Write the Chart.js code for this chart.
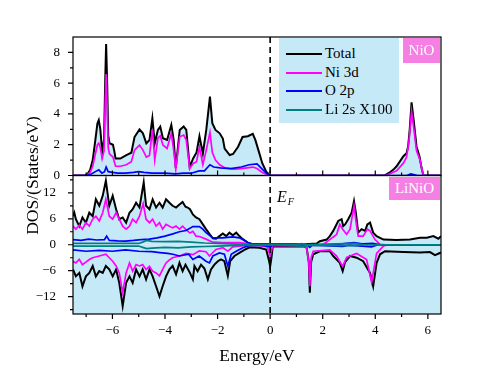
<!DOCTYPE html>
<html>
<head>
<meta charset="utf-8">
<script src="https://cdn.jsdelivr.net/npm/chart.js@4.4.1/dist/chart.umd.min.js"></script>
<style>
  body { margin: 0; background: #fff; }
  #wrap { position: relative; width: 491px; height: 374px; font-family: 'Liberation Serif', serif; color: #000; }
  #legend { position: absolute; left: 279px; top: 38px; width: 120px; height: 85px; background: #c6e9f8; }
  .row { position: absolute; left: 0; width: 120px; height: 19px; font-size: 15px; line-height: 19px; }
  .row .swatch { position: absolute; left: 7px; top: 9px; width: 36px; height: 2px; }
  .row .txt { position: absolute; left: 46px; top: 0; white-space: nowrap; }
  .tag { position: absolute; background: #f67fe3; color: #fff; font-size: 15px; text-align: center; }
  #ef { position: absolute; left: 277px; top: 188px; font-size: 16px; line-height: 18px; font-style: italic; }
  #ef sub { font-size: 10px; vertical-align: -3px; margin-left: 1px; }
</style>
</head>
<body>
<div id="wrap">
  <canvas id="dos" width="491" height="374"></canvas>
  <div id="legend"></div>
  <div class="tag" style="left:403px;top:38px;width:37px;height:25px;line-height:25px;">NiO</div>
  <div class="tag" style="left:389px;top:177px;width:51px;height:23px;line-height:23px;">LiNiO</div>
  <div id="ef">E<sub>F</sub></div>
</div>
<script>
// axis ticks
const xTicks = [-6, -4, -2, 0, 2, 4, 6];
const xMinor = [-7, -5, -3, -1, 1, 3, 5];
const topTicks = [0, 2, 4, 6, 8];
const topMinor = [1, 3, 5, 7];
const botTicks = [-12, -6, 0, 6, 12];
const botMinor = [-15, -9, -3, 3, 9, 15];

const legendLabels = ['Total', 'Ni 3d', 'O 2p', 'Li 2s X100'];

// NiO panel, [energy, DOS]
const nioTotal = [[-7.5,0],[-7.05,0],[-6.95,0.1],[-6.85,0.35],[-6.75,1.0],[-6.65,2.3],[-6.57,3.4],[-6.52,3.6],[-6.46,3.0],[-6.39,1.55],[-6.32,2.3],[-6.27,6.5],[-6.24,8.55],[-6.2,6.0],[-6.16,2.6],[-6.11,2.1],[-5.98,2.0],[-5.93,1.6],[-5.88,1.1],[-5.7,1.1],[-5.47,1.33],[-5.28,1.48],[-5.16,2.5],[-4.97,3.0],[-4.84,2.74],[-4.71,2.09],[-4.59,2.31],[-4.48,3.72],[-4.39,2.09],[-4.27,2.96],[-4.18,3.18],[-4.08,2.42],[-3.92,2.31],[-3.76,3.29],[-3.67,2.31],[-3.59,0.5],[-3.44,2.96],[-3.29,3.18],[-3.19,2.96],[-3.06,0.55],[-2.93,1.11],[-2.8,1.5],[-2.69,2.55],[-2.56,1.43],[-2.43,2.96],[-2.29,5.13],[-2.2,3.4],[-2.08,2.96],[-1.92,2.74],[-1.8,2.4],[-1.73,1.75],[-1.54,1.33],[-1.41,1.4],[-1.22,1.87],[-1.05,2.5],[-0.85,2.55],[-0.66,2.7],[-0.56,2.3],[-0.43,1.55],[-0.3,0.8],[-0.15,0.25],[0,0],[4.35,0],[4.55,0.2],[4.7,0.4],[4.81,0.6],[4.95,0.95],[5.07,1.25],[5.19,1.45],[5.25,1.9],[5.31,3.0],[5.38,4.75],[5.46,3.6],[5.57,1.87],[5.68,1.25],[5.76,0.5],[5.83,0],[6.5,0]];
const nioNi = [[-7.5,0],[-7.05,0],[-6.95,0.05],[-6.85,0.2],[-6.75,0.6],[-6.65,1.4],[-6.57,2.0],[-6.52,2.1],[-6.46,1.8],[-6.39,1.1],[-6.32,1.6],[-6.27,5.0],[-6.24,6.6],[-6.2,4.5],[-6.16,1.8],[-6.11,1.4],[-5.98,1.2],[-5.93,0.9],[-5.88,0.6],[-5.7,0.6],[-5.47,0.7],[-5.28,0.9],[-5.16,1.65],[-4.97,1.98],[-4.84,1.65],[-4.71,1.2],[-4.59,1.3],[-4.48,3.0],[-4.39,1.0],[-4.27,2.42],[-4.18,2.57],[-4.08,1.98],[-3.92,1.76],[-3.76,2.74],[-3.67,1.65],[-3.59,0.4],[-3.44,2.52],[-3.29,2.63],[-3.19,2.3],[-3.06,0.45],[-2.93,0.78],[-2.8,0.9],[-2.69,1.85],[-2.56,0.7],[-2.43,1.65],[-2.29,2.8],[-2.2,1.5],[-2.08,1.0],[-1.92,0.7],[-1.73,0.5],[-1.4,0.42],[-1.1,0.45],[-0.66,0.55],[-0.5,0.45],[-0.3,0.2],[-0.1,0.05],[0,0],[4.4,0],[4.81,0.3],[5.07,0.8],[5.19,1.2],[5.28,2.2],[5.38,4.15],[5.47,3.0],[5.57,1.6],[5.7,1.0],[5.8,0.2],[5.85,0],[6.5,0]];
const nioO = [[-7.5,0],[-7.0,0],[-6.8,0.1],[-6.6,0.3],[-6.52,0.37],[-6.4,0.15],[-6.3,0.25],[-6.24,0.55],[-6.16,0.25],[-6.0,0.2],[-5.8,0.15],[-5.5,0.15],[-5.2,0.2],[-5.0,0.25],[-4.8,0.2],[-4.5,0.15],[-4.0,0.15],[-3.6,0.1],[-3.3,0.15],[-3.0,0.15],[-2.7,0.3],[-2.5,0.3],[-2.29,0.7],[-2.15,0.55],[-1.9,0.5],[-1.5,0.45],[-1.1,0.55],[-0.8,0.7],[-0.5,0.75],[-0.35,0.5],[-0.15,0.15],[0,0],[5.2,0],[5.35,0.1],[5.5,0.05],[5.6,0],[6.5,0]];

// LiNiO panel, spin up (positive) and spin down (negative)
const liTotalUp = [[-7.5,6.6],[-7.45,7.4],[-7.39,5.9],[-7.26,4.3],[-7.14,6.3],[-7.01,5.1],[-6.88,7.4],[-6.75,6.6],[-6.63,10.5],[-6.5,9.0],[-6.37,11.3],[-6.25,14.8],[-6.12,9.0],[-5.99,11.3],[-5.86,8.2],[-5.74,5.9],[-5.61,6.3],[-5.48,5.1],[-5.35,7.4],[-5.23,8.2],[-5.1,9.7],[-4.97,8.6],[-4.81,14.4],[-4.72,9.0],[-4.59,8.2],[-4.47,10.5],[-4.34,8.6],[-4.21,9.7],[-4.09,8.6],[-3.96,10.5],[-3.83,9.7],[-3.71,9.0],[-3.58,8.6],[-3.45,9.3],[-3.33,9.9],[-3.22,8.8],[-3.14,8.6],[-3.05,8.2],[-2.94,7.0],[-2.82,6.3],[-2.69,5.9],[-2.56,4.7],[-2.44,3.6],[-2.31,2.5],[-2.18,1.5],[-2.06,1.4],[-1.93,2.0],[-1.8,2.6],[-1.67,2.0],[-1.55,2.8],[-1.42,2.2],[-1.29,2.8],[-1.17,2.0],[-1.04,1.3],[-0.85,0.5],[-0.66,0.15],[0,0.1],[1.3,0.1],[1.77,0.3],[1.89,0.8],[2.15,1.2],[2.27,2.0],[2.4,3.2],[2.59,5.5],[2.72,5.9],[2.78,4.3],[2.85,4.7],[2.97,5.9],[3.1,7.4],[3.19,10.1],[3.26,7.4],[3.35,2.8],[3.48,3.6],[3.61,3.2],[3.7,4.7],[3.8,5.1],[3.92,2.8],[4.05,2.0],[4.31,1.2],[4.81,1.1],[5.32,1.2],[5.7,1.6],[5.96,1.6],[6.21,2.0],[6.4,1.4],[6.5,2.0]];
const liTotalDn = [[-7.5,-5.7],[-7.39,-7.3],[-7.26,-6.5],[-7.14,-9.6],[-7.01,-7.3],[-6.88,-6.5],[-6.75,-4.9],[-6.63,-7.3],[-6.5,-6.1],[-6.37,-6.5],[-6.25,-4.9],[-6.12,-5.7],[-5.99,-7.3],[-5.86,-5.7],[-5.74,-8.8],[-5.61,-14.2],[-5.48,-8.8],[-5.35,-7.3],[-5.23,-8.8],[-5.1,-5.7],[-4.97,-7.3],[-4.85,-5.7],[-4.72,-8.0],[-4.59,-5.7],[-4.47,-7.3],[-4.34,-9.6],[-4.21,-11.9],[-4.09,-9.6],[-3.96,-7.3],[-3.83,-5.7],[-3.71,-4.9],[-3.58,-6.8],[-3.45,-4.2],[-3.33,-6.1],[-3.22,-4.6],[-3.05,-6.5],[-2.94,-8.0],[-2.88,-4.9],[-2.76,-6.1],[-2.63,-4.6],[-2.5,-5.5],[-2.37,-8.0],[-2.25,-5.7],[-2.12,-4.6],[-1.99,-3.8],[-1.87,-3.4],[-1.74,-3.8],[-1.61,-7.2],[-1.52,-3.8],[-1.36,-2.6],[-1.17,-1.9],[-0.98,-1.2],[-0.78,-0.6],[-0.41,-0.7],[-0.15,-1.1],[-0.05,-3.5],[0,-5.0],[0.05,-3.0],[0.1,-0.4],[1.3,-0.4],[1.39,-0.7],[1.47,-4.0],[1.51,-11.1],[1.56,-4.0],[1.64,-2.2],[1.89,-1.5],[2.27,-1.5],[2.4,-2.6],[2.53,-3.4],[2.65,-4.2],[2.76,-6.1],[2.85,-4.0],[3.04,-2.6],[3.29,-3.0],[3.54,-3.8],[3.8,-6.5],[3.92,-9.6],[4.05,-4.2],[4.18,-2.2],[4.37,-1.5],[5.07,-1.7],[5.7,-1.8],[6.08,-1.7],[6.27,-2.4],[6.5,-1.8]];
const liNiUp = [[-7.5,4.3],[-7.39,3.6],[-7.26,4.5],[-7.14,3.6],[-7.01,5.1],[-6.88,4.3],[-6.75,5.9],[-6.63,6.6],[-6.5,5.5],[-6.37,7.4],[-6.25,10.5],[-6.12,6.6],[-5.99,5.9],[-5.86,7.4],[-5.74,5.9],[-5.61,4.3],[-5.48,3.6],[-5.35,4.3],[-5.23,5.9],[-5.1,5.1],[-4.97,6.6],[-4.83,9.5],[-4.72,5.9],[-4.59,5.1],[-4.47,5.9],[-4.34,4.3],[-4.21,5.1],[-4.09,3.6],[-3.96,4.7],[-3.83,4.3],[-3.71,3.9],[-3.58,4.3],[-3.45,3.6],[-3.33,4.3],[-3.22,3.6],[-3.05,2.7],[-2.94,3.1],[-2.82,2.0],[-2.69,1.9],[-2.44,1.3],[-2.18,0.6],[-1.8,0.5],[-1.17,0.5],[-0.66,0.1],[0,0],[2.02,0.05],[2.27,1.2],[2.53,2.4],[2.65,4.7],[2.76,3.6],[2.91,2.4],[3.04,3.6],[3.19,8.9],[3.29,4.3],[3.35,2.0],[3.54,2.0],[3.7,3.6],[3.8,3.2],[3.99,1.2],[4.18,0.1],[4.4,0],[6.5,0]];
const liNiDn = [[-7.5,-3.8],[-7.39,-4.2],[-7.26,-3.4],[-7.14,-4.6],[-7.01,-4.0],[-6.88,-3.4],[-6.75,-3.0],[-6.5,-2.6],[-6.25,-2.2],[-6.12,-3.0],[-5.99,-3.8],[-5.86,-4.9],[-5.74,-6.5],[-5.61,-11.1],[-5.48,-6.5],[-5.35,-4.2],[-5.23,-6.1],[-5.1,-4.6],[-4.97,-4.9],[-4.85,-4.6],[-4.72,-5.7],[-4.59,-5.0],[-4.47,-6.1],[-4.34,-6.5],[-4.21,-7.2],[-4.09,-5.7],[-3.96,-4.2],[-3.83,-3.5],[-3.71,-3.0],[-3.45,-2.6],[-3.2,-2.0],[-2.94,-2.3],[-2.69,-1.4],[-2.44,-1.6],[-2.31,-2.6],[-2.06,-1.1],[-1.8,-0.7],[-1.61,-1.5],[-1.42,-0.5],[-1.0,-0.2],[-0.5,-0.1],[-0.1,-0.5],[0,-2.6],[0.1,-0.2],[1.3,-0.2],[1.39,-0.8],[1.47,-4.0],[1.51,-9.6],[1.56,-3.0],[1.64,-1.5],[2.27,-1.2],[2.53,-2.6],[2.76,-5.0],[2.91,-2.9],[3.29,-2.0],[3.67,-3.4],[3.86,-8.7],[4.05,-2.0],[4.31,-0.3],[4.5,0],[6.5,0]];
const liOUp = [[-7.5,1.2],[-7.2,1.0],[-6.9,1.3],[-6.6,1.1],[-6.3,1.2],[-6.22,2.0],[-6.12,1.0],[-5.8,0.9],[-5.5,0.85],[-5.2,1.0],[-4.9,1.2],[-4.6,1.3],[-4.3,1.6],[-4.0,2.0],[-3.7,2.5],[-3.45,3.0],[-3.2,3.3],[-2.94,4.2],[-2.69,4.2],[-2.56,3.6],[-2.44,2.8],[-2.18,1.6],[-1.8,1.6],[-1.42,1.8],[-1.17,1.6],[-1.04,1.2],[-0.85,0.5],[-0.66,0.1],[0,0],[2.5,0.05],[2.9,0.3],[3.19,0.5],[3.5,0.2],[3.9,0.3],[4.2,0],[6.5,0]];
const liODn = [[-7.5,-1.2],[-7.0,-1.5],[-6.5,-1.3],[-6.0,-1.5],[-5.5,-1.2],[-5.0,-1.5],[-4.5,-1.6],[-4.2,-1.8],[-3.9,-2.0],[-3.7,-2.2],[-3.45,-2.6],[-3.1,-2.2],[-2.94,-3.4],[-2.7,-2.6],[-2.44,-3.8],[-2.31,-4.2],[-2.18,-2.6],[-1.93,-1.9],[-1.74,-2.2],[-1.61,-4.9],[-1.48,-2.2],[-1.29,-1.5],[-1.04,-0.7],[-0.78,-0.15],[-0.3,-0.1],[0,-0.5],[0.1,-0.1],[1.4,-0.1],[1.51,-0.6],[1.6,-0.1],[2.76,-0.4],[3.0,-0.1],[3.86,-0.5],[4.1,0],[6.5,0]];
const liLiUp = [[-7.5,0.3],[-5.0,0.3],[-4.85,0.6],[-4.7,1.0],[-4.5,0.8],[-4.0,0.7],[-3.5,0.8],[-3.0,0.6],[-2.5,0.4],[-2.0,0.3],[-1.5,0.2],[-1.0,0.1],[0,0],[1.0,0.05],[1.2,0.25],[1.4,0.05],[3.2,0.3],[3.5,0.05],[6.5,0]];
const liLiDn = [[-7.5,-0.3],[-5.0,-0.3],[-4.85,-0.6],[-4.7,-0.9],[-4.5,-0.8],[-4.0,-0.6],[-3.5,-0.7],[-3.0,-0.5],[-2.5,-0.4],[-2.0,-0.3],[-1.0,-0.1],[0,0],[1.3,-0.3],[1.5,-0.1],[3.2,-0.2],[3.5,0],[6.5,0]];

const FILL = '#c6e9f8';
const colors = ['#000000', '#ff00ff', '#0000ff', '#008080'];
const FONT = 'Liberation Serif';

// legend box
const legend = document.getElementById('legend');
legendLabels.forEach((name, i) => {
    const row = document.createElement('div');
    row.className = 'row';
    row.style.top = (6 + i * 18.7) + 'px';
    const sw = document.createElement('div');
    sw.className = 'swatch';
    sw.style.background = colors[i];
    const txt = document.createElement('div');
    txt.className = 'txt';
    txt.textContent = name;
    row.appendChild(sw);
    row.appendChild(txt);
    legend.appendChild(row);
});

function series(label, pts, color, yAxisID, order, filled) {
    return {
        label: label,
        data: pts.map(p => ({ x: p[0], y: p[1] })),
        borderColor: color,
        borderWidth: color === '#000000' ? 2 : 1.7,
        backgroundColor: FILL,
        fill: filled ? { target: 'origin', above: FILL, below: FILL } : false,
        yAxisID: yAxisID,
        order: order,
        pointRadius: 0,
        tension: 0
    };
}

const minus = v => String(v).replace('-', '\u2212');

function tickMarks(ctx, scale, values, len, side) {
    values.forEach(v => {
        const p = scale.getPixelForValue(v);
        if (side === 'left') { ctx.moveTo(scale.right - len, p); ctx.lineTo(scale.right, p); }
        if (side === 'down') { ctx.moveTo(p, scale.top); ctx.lineTo(p, scale.top + len); }
    });
}

const framePlugin = {
    id: 'frames',
    beforeDatasetsDraw(chart) {
        const { ctx, chartArea, scales } = chart;
        const yBot = scales.yBot;
        const y0 = yBot.getPixelForValue(0);
        ctx.save();
        ctx.fillStyle = FILL;
        ctx.fillRect(chartArea.left, y0, chartArea.right - chartArea.left, yBot.bottom - y0);
        ctx.restore();
    },
    afterDraw(chart) {
        const { ctx, chartArea, scales } = chart;
        const { x, yTop, yBot } = scales;
        const L = chartArea.left, R = chartArea.right;
        ctx.save();
        ctx.strokeStyle = '#000';
        ctx.lineWidth = 1.2;
        ctx.strokeRect(L, yTop.top, R - L, yTop.bottom - yTop.top);
        ctx.strokeRect(L, yBot.top, R - L, yBot.bottom - yBot.top);

        ctx.beginPath();
        tickMarks(ctx, yTop, topTicks, 5, 'left');
        tickMarks(ctx, yTop, topMinor, 3, 'left');
        tickMarks(ctx, yBot, botTicks, 5, 'left');
        tickMarks(ctx, yBot, botMinor, 3, 'left');
        tickMarks(ctx, x, xTicks, 5, 'down');
        tickMarks(ctx, x, xMinor, 3, 'down');
        // inward ticks on the bottom edge of the NiO panel
        xTicks.concat(xMinor).forEach(v => {
            const p = x.getPixelForValue(v);
            const len = xTicks.includes(v) ? 5 : 3;
            ctx.moveTo(p, yTop.bottom);
            ctx.lineTo(p, yTop.bottom - len);
        });
        ctx.stroke();

        // Fermi level
        const xf = x.getPixelForValue(0);
        ctx.beginPath();
        ctx.setLineDash([6, 4]);
        ctx.lineWidth = 1.6;
        ctx.moveTo(xf, yTop.top);
        ctx.lineTo(xf, yBot.bottom);
        ctx.stroke();
        ctx.setLineDash([]);

        // shared y title
        ctx.translate(33, (yTop.top + yBot.bottom) / 2);
        ctx.rotate(-Math.PI / 2);
        ctx.fillStyle = '#000';
        ctx.font = '17.5px "' + FONT + '"';
        ctx.textAlign = 'center';
        ctx.textBaseline = 'middle';
        ctx.fillText('DOS/(States/eV)', 0, 0);
        ctx.restore();
    }
};

const tickFont = { family: FONT, size: 13 };

const chart = new Chart(document.getElementById('dos'), {
    type: 'line',
    data: {
        datasets: [
            series('Total', nioTotal, colors[0], 'yTop', 10, true),
            series('Ni 3d', nioNi, colors[1], 'yTop', 6, false),
            series('O 2p', nioO, colors[2], 'yTop', 4, false),
            series('Total', liTotalUp, colors[0], 'yBot', 10, true),
            series('Total', liTotalDn, colors[0], 'yBot', 10, false),
            series('Ni 3d', liNiUp, colors[1], 'yBot', 6, false),
            series('Ni 3d', liNiDn, colors[1], 'yBot', 6, false),
            series('O 2p', liOUp, colors[2], 'yBot', 4, false),
            series('O 2p', liODn, colors[2], 'yBot', 4, false),
            series('Li 2s X100', liLiUp, colors[3], 'yBot', 2, false),
            series('Li 2s X100', liLiDn, colors[3], 'yBot', 2, false)
        ]
    },
    options: {
        responsive: false,
        animation: false,
        layout: { padding: { top: 37, right: 50, bottom: 0, left: 0 } },
        plugins: { legend: { display: false }, tooltip: { enabled: false } },
        scales: {
            x: {
                type: 'linear',
                min: -7.5,
                max: 6.5,
                afterBuildTicks: s => { s.ticks = xTicks.map(v => ({ value: v })); },
                afterFit: s => { s.height = 60; },
                grid: { display: false, drawTicks: false },
                border: { display: false },
                ticks: { font: tickFont, color: '#000', padding: 9, maxRotation: 0, callback: minus },
                title: { display: true, text: 'Energy/eV', color: '#000', font: { family: FONT, size: 17.5 }, padding: { top: 0, bottom: 7 } }
            },
            yBot: {
                type: 'linear',
                position: 'left',
                stack: 'dos',
                stackWeight: 1,
                min: -16,
                max: 16,
                afterBuildTicks: s => { s.ticks = botTicks.map(v => ({ value: v })); },
                afterFit: s => { s.width = 73; },
                grid: { display: false, drawTicks: false },
                border: { display: false },
                ticks: { font: tickFont, color: '#000', padding: 17, callback: minus }
            },
            yTop: {
                type: 'linear',
                position: 'left',
                stack: 'dos',
                stackWeight: 1,
                min: 0,
                max: 9,
                afterBuildTicks: s => { s.ticks = topTicks.map(v => ({ value: v })); },
                afterFit: s => { s.width = 73; },
                grid: { display: false, drawTicks: false },
                border: { display: false },
                ticks: { font: tickFont, color: '#000', padding: 13, callback: minus }
            }
        }
    },
    plugins: [framePlugin]
});
</script>
</body>
</html>
